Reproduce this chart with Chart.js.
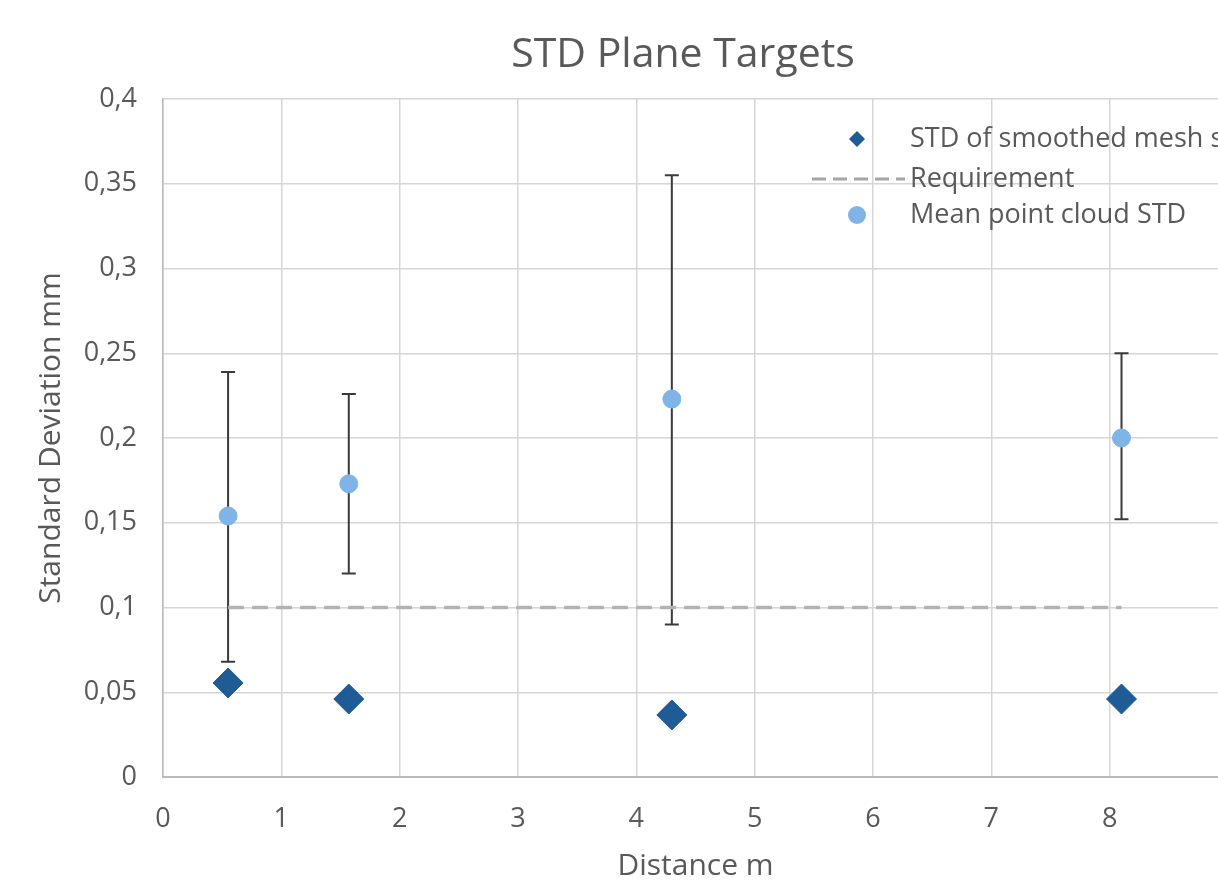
<!DOCTYPE html>
<html>
<head>
<meta charset="utf-8">
<script src="https://cdn.jsdelivr.net/npm/chart.js"></script>
<style>
  html, body { margin: 0; padding: 0; background: #fff; overflow: hidden; }
  #wrap { width: 1366px; height: 884px; }
</style>
</head>
<body>
<div id="wrap"><canvas id="c" width="1366" height="884"></canvas></div>
<script>
// distances (m)
const distances = [0.55, 1.57, 4.3, 8.1];
// STD of smoothed mesh surface
const meshStd = [0.0555, 0.046, 0.0366, 0.046];
// mean point cloud STD and its error range
const cloudStd = [0.154, 0.173, 0.223, 0.2];
const cloudLow = [0.068, 0.12, 0.09, 0.152];
const cloudHigh = [0.239, 0.226, 0.355, 0.25];
// requirement line
const reqX = [0.55, 8.1];
const reqY = [0.1, 0.1];

const chartTitle = "STD Plane Targets";
const legendLabels = ["STD of smoothed mesh surface", "Requirement", "Mean point cloud STD"];

const textColor = "#595959";
const fontFamily = "'Open Sans', 'Noto Sans', sans-serif";

const errorBars = {
    id: "errorBars",
    beforeDatasetsDraw(chart) {
        const { ctx, scales: { x, y } } = chart;
        ctx.save();
        ctx.strokeStyle = "#3a3a3a";
        ctx.lineWidth = 2;
        distances.forEach((d, i) => {
            const px = x.getPixelForValue(d);
            const top = y.getPixelForValue(cloudHigh[i]);
            const bot = y.getPixelForValue(cloudLow[i]);
            ctx.beginPath();
            ctx.moveTo(px, top); ctx.lineTo(px, bot);
            ctx.moveTo(px - 7, top); ctx.lineTo(px + 7, top);
            ctx.moveTo(px - 7, bot); ctx.lineTo(px + 7, bot);
            ctx.stroke();
        });
        ctx.restore();
    }
};

// chart title (centred on the whole chart) and the legend drawn inside the plot
const titleAndLegend = {
    id: "titleAndLegend",
    afterDraw(chart) {
        const { ctx, chartArea } = chart;
        ctx.save();
        ctx.fillStyle = textColor;
        ctx.font = "41px " + fontFamily;
        ctx.textAlign = "center";
        ctx.textBaseline = "middle";
        ctx.fillText(chartTitle, chart.width / 2, 55);

        const mx = chartArea.left + 694;
        const tx = chartArea.left + 747;
        const rows = [chartArea.top + 40, chartArea.top + 80, chartArea.top + 116];
        ctx.fillStyle = "#1f5b94";
        ctx.beginPath();
        ctx.moveTo(mx, rows[0] - 8); ctx.lineTo(mx + 8, rows[0]);
        ctx.lineTo(mx, rows[0] + 8); ctx.lineTo(mx - 8, rows[0]);
        ctx.closePath(); ctx.fill();
        ctx.strokeStyle = "#a6a6a6";
        ctx.lineWidth = 3;
        ctx.setLineDash([14, 7]);
        ctx.beginPath();
        ctx.moveTo(mx - 45, rows[1]); ctx.lineTo(mx + 48, rows[1]);
        ctx.stroke();
        ctx.setLineDash([]);
        ctx.fillStyle = "#7fb4e6";
        ctx.beginPath();
        ctx.arc(mx, rows[2], 9, 0, Math.PI * 2);
        ctx.fill();
        ctx.fillStyle = textColor;
        ctx.font = "27px " + fontFamily;
        ctx.textAlign = "left";
        legendLabels.forEach((t, i) => ctx.fillText(t, tx, rows[i]));
        ctx.restore();
    }
};

new Chart(document.getElementById("c"), {
    type: "scatter",
    data: {
        datasets: [
            {
                label: legendLabels[1],
                data: reqX.map((v, i) => ({ x: v, y: reqY[i] })),
                showLine: true,
                borderColor: "#b3b3b3",
                borderWidth: 3.5,
                borderDash: [16, 8],
                pointRadius: 0,
                order: 3
            },
            {
                label: legendLabels[0],
                data: distances.map((d, i) => ({ x: d, y: meshStd[i] })),
                pointStyle: "rectRot",
                pointRadius: 15,
                backgroundColor: "#1f5b94",
                borderColor: "#1f5b94",
                order: 1
            },
            {
                label: legendLabels[2],
                data: distances.map((d, i) => ({ x: d, y: cloudStd[i] })),
                pointStyle: "circle",
                pointRadius: 9,
                backgroundColor: "#7fb4e6",
                borderColor: "#7fb4e6",
                order: 2
            }
        ]
    },
    options: {
        responsive: false,
        animation: false,
        layout: { padding: { top: 99, right: 138, left: 0, bottom: 0 } },
        plugins: {
            legend: { display: false },
            tooltip: { enabled: false },
            title: { display: false }
        },
        scales: {
            x: {
                type: "linear",
                min: 0, max: 9,
                afterFit: s => { s.height = 107; },
                ticks: { stepSize: 1, color: textColor, font: { family: fontFamily, size: 27 }, padding: 26 },
                grid: { color: "#d6d6d6", lineWidth: 1.5, drawTicks: false },
                border: { color: "#bababa", width: 2 },
                title: {
                    display: true, text: "Distance m", color: textColor,
                    font: { family: fontFamily, size: 30 }, padding: 0
                }
            },
            y: {
                min: 0, max: 0.4,
                afterFit: s => { s.width = 163; },
                ticks: {
                    stepSize: 0.05, color: textColor, padding: 26,
                    font: { family: fontFamily, size: 27 },
                    callback: v => String(Math.round(v * 100) / 100).replace(".", ",")
                },
                grid: { color: "#d6d6d6", lineWidth: 1.5, drawTicks: false },
                border: { color: "#bababa", width: 1.5 },
                title: {
                    display: true, text: "Standard Deviation mm", color: textColor,
                    font: { family: fontFamily, size: 30 }, padding: 33
                }
            }
        }
    },
    plugins: [errorBars, titleAndLegend]
});
</script>
</body>
</html>
